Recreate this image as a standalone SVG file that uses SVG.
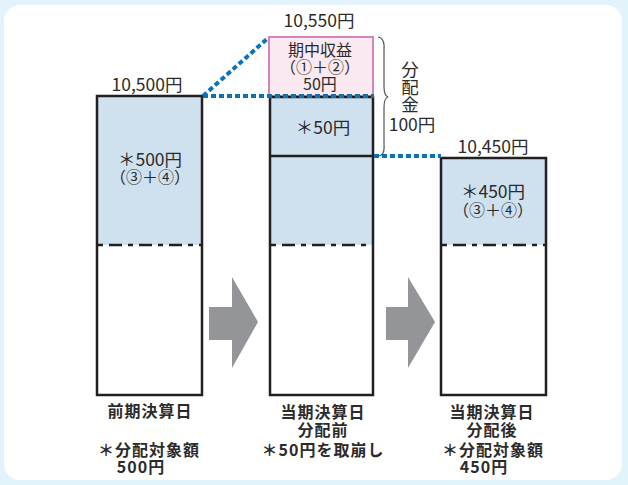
<svg xmlns="http://www.w3.org/2000/svg" width="628" height="485" viewBox="0 0 628 485">
<style>
text{font-family:"Noto Sans CJK JP","Noto Sans",sans-serif;fill:#2b2b2b;text-anchor:middle}
.v{font-size:17.5px}
.in{font-size:16px}
.lb{font-size:16px;font-weight:bold;letter-spacing:1px}
.vt{writing-mode:vertical-rl;text-anchor:start}
.box{fill:none;stroke:#231f20;stroke-width:2.5}
.fill{fill:#cfe0ee}
.dd{stroke:#231f20;stroke-width:2.5;stroke-dasharray:5 6 13 6}
.blue{stroke:#0a72bd;stroke-width:4;stroke-dasharray:5 3;fill:none}
.arr{fill:#939598}
</style>
<rect width="628" height="485" fill="#e3f3fb"/>
<rect x="4" y="5" width="618" height="475" rx="16" fill="#ffffff"/>

<g id="box1">
<rect class="fill" x="97" y="96" width="105" height="149"/>
<line class="dd" x1="98" y1="245" x2="201" y2="245"/>
<rect class="box" x="97" y="96" width="105" height="299"/>
<text class="v" x="147" y="91">10,500円</text>
<text x="150" y="166"><tspan class="v">＊500円</tspan><tspan class="in" x="150" dy="17">（③＋④）</tspan></text>
</g>

<g id="box2">
<rect x="269" y="37" width="104" height="59" fill="#fbe9f1" stroke="#d884b9" stroke-width="2"/>
<rect class="fill" x="270" y="97" width="103" height="148"/>
<line class="dd" x1="271" y1="245" x2="372" y2="245"/>
<rect class="box" x="270" y="97" width="103" height="298"/>
<line class="box" x1="270" y1="156" x2="373" y2="156"/>
<text class="v" x="319" y="27">10,550円</text>
<text class="in" x="320" y="56">期中収益<tspan x="320" dy="17">（①＋②）</tspan><tspan x="320" dy="17">50円</tspan></text>
<text class="v" x="323" y="134">＊50円</text>
</g>

<g id="box3">
<rect class="fill" x="441" y="158" width="105" height="87"/>
<line class="dd" x1="442" y1="245" x2="545" y2="245"/>
<rect class="box" x="441" y="158" width="105" height="237"/>
<text class="v" x="493" y="153">10,450円</text>
<text x="493" y="198"><tspan class="v">＊450円</tspan><tspan class="in" x="493" dy="18">（③＋④）</tspan></text>
</g>

<g id="brace">
<path d="M378,37 Q385,38 384,50 L384,86 Q384,96 388,97 Q384,98 384,108 L384,144 Q385,156 378,156" fill="none" stroke="#555" stroke-width="1.2"/>
<text class="v vt" x="410" y="61">分配金</text>
<text class="v" x="412" y="131">100円</text>
</g>

<g id="connectors">
<line class="blue" x1="203" y1="96" x2="268" y2="38"/>
<line class="blue" x1="203" y1="96" x2="374" y2="96"/>
<line class="blue" x1="374" y1="156" x2="441" y2="156"/>
<polygon class="arr" points="209,307 232,307 232,277 258,322 232,368 232,340 209,340"/>
<polygon class="arr" points="386,307 408,307 408,277 435,322 408,368 408,340 386,340"/>
</g>

<g id="labels">
<text class="lb" x="150" y="417">前期決算日</text>
<text class="lb" x="149" y="456">＊分配対象額<tspan x="141" dy="17">500円</tspan></text>
<text class="lb" x="323" y="418">当期決算日<tspan x="323" dy="18">分配前</tspan><tspan x="323" dy="20">＊50円を取崩し</tspan></text>
<text class="lb" x="492" y="418">当期決算日<tspan x="492" dy="18">分配後</tspan><tspan x="493" dy="20">＊分配対象額</tspan><tspan x="484" dy="17">450円</tspan></text>
</g>
</svg>
